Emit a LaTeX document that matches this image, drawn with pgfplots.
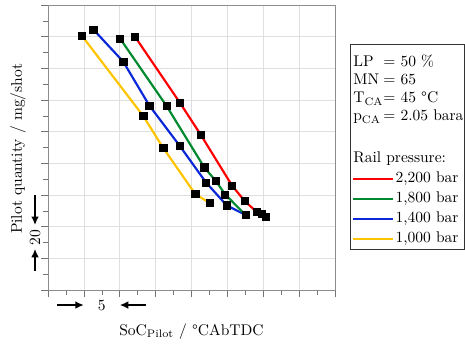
\documentclass[border=0pt]{standalone}
\usepackage{fontspec}
\usepackage{pgfplots}
\pgfplotsset{compat=1.18}
\usetikzlibrary{arrows.meta}
\definecolor{cred}{HTML}{FF0000}
\definecolor{cgreen}{HTML}{00892E}
\definecolor{cblue}{HTML}{0A28D8}
\definecolor{cyellow}{HTML}{FFC400}
\begin{document}
\begin{tikzpicture}
\path[use as bounding box] (0,0) rectangle (299.9pt,223.8pt);
\begin{axis}[
  at={(30.96pt,36.77pt)}, anchor=south west,
  scale only axis, width=185.1pt, height=183.8pt,
  xmin=0, xmax=40, ymin=0, ymax=180,
  xtick={0,5,...,40}, ytick={0,20,...,180},
  minor x tick num=1, minor y tick num=1,
  xticklabels={}, yticklabels={},
  grid=major, major grid style={gray!25, line width=0.4pt},
  tick align=outside, xtick pos=bottom, ytick pos=left,
  major tick length=4.5pt, minor tick length=3pt,
  tick style={black!55, line width=0.4pt},
  axis line style={black!45},
  clip=false,
  xlabel={SoC$_{\mathrm{Pilot}}$ / °CAbTDC},
  ylabel={Pilot quantity / mg/shot},
  xlabel style={at={(axis description cs:0.5,-0.145)}, anchor=center},
  ylabel style={at={(axis description cs:-0.1045,0.495)}, anchor=center},
  every axis plot/.append style={line width=1.4pt, mark=square*, mark size=2.3pt, mark options={black, solid, line width=0.3pt}},
  legend style={at={(axis description cs:1.0557,0.421)}, anchor=north west, draw=none, fill=none,
    inner sep=0pt, row sep=1.9pt,
    nodes={inner sep=1pt, inner xsep=1pt, text height=7pt, text depth=2pt}},
  legend cell align=left,
  legend image code/.code={\draw[#1, line width=1.6pt] (0pt,0pt) -- (26pt,0pt);},
]
\addplot[cyellow, forget plot] coordinates {(4.69,160.8) (13.27,109.9) (16.06,89.7) (20.52,60.6) (22.56,54.9)};
\addplot[cblue, forget plot] coordinates {(6.31,164.6) (10.49,144.2) (14.11,116.6) (18.38,90.9) (22.01,68.0) (24.89,53.5) (27.53,47.4)};
\addplot[cgreen, forget plot] coordinates {(10.03,158.9) (16.53,116.2) (21.77,77.5) (23.40,68.8) (24.69,60.4) (27.53,47.4)};
\addplot[cred, forget plot] coordinates {(12.12,160.0) (18.38,118.3) (21.31,97.9) (25.63,66.1) (27.40,56.2) (29.07,49.4) (29.81,48.4) (30.36,46.3)};
\addlegendimage{cred}
\addlegendentry{2,200 bar}
\addlegendimage{cgreen}
\addlegendentry{1,800 bar}
\addlegendimage{cblue}
\addlegendentry{1,400 bar}
\addlegendimage{cyellow}
\addlegendentry{1,000 bar}
% annotations
\draw[black, line width=1.1pt, -{Latex[length=5.5pt,width=5pt]}] (axis cs:1.25,-9.5) -- (axis cs:5,-9.5);
\node at (axis cs:7.5,-9.5) {5};
\draw[black, line width=1.1pt, -{Latex[length=5.5pt,width=5pt]}] (axis cs:13.7,-9.5) -- (axis cs:10,-9.5);
\draw[black, line width=1.1pt, -{Latex[length=5.5pt,width=5pt]}] (axis cs:-1.81,60) -- (axis cs:-1.81,41);
\node[rotate=90] at (axis cs:-1.81,33) {20};
\draw[black, line width=1.1pt, -{Latex[length=5.5pt,width=5pt]}] (axis cs:-1.81,12) -- (axis cs:-1.81,26);
\end{axis}
% info box
\draw[black!80, line width=0.65pt] (225.75pt,63.2pt) rectangle (299.6pt,194.8pt);
\node[anchor=base west, inner sep=0pt] at (227.7pt,181.2pt) {LP};
\node[anchor=base west, inner sep=0pt] at (247pt,181.2pt) {= 50 \%};
\node[anchor=base west, inner sep=0pt] at (227.7pt,169.6pt) {MN};
\node[anchor=base west, inner sep=0pt] at (247pt,169.6pt) {= 65};
\node[anchor=base west, inner sep=0pt] at (227.7pt,157.4pt) {T$_{\mathrm{CA}}$};
\node[anchor=base west, inner sep=0pt] at (247pt,157.4pt) {= 45 °C};
\node[anchor=base west, inner sep=0pt] at (227.7pt,145.8pt) {p$_{\mathrm{CA}}$};
\node[anchor=base west, inner sep=0pt] at (247pt,145.8pt) {= 2.05 bara};
\node[anchor=base west, inner sep=0pt] at (227.7pt,119.3pt) {Rail pressure:};
\end{tikzpicture}
\end{document}
